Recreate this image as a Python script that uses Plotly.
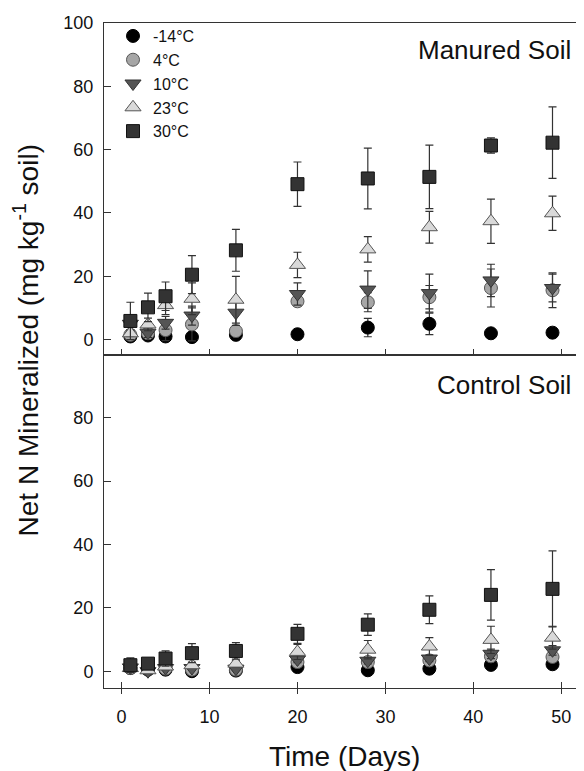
import plotly.graph_objects as go

days = [1, 3, 5, 8, 13, 20, 28, 35, 42, 49]
labels = ["-14°C", "4°C", "10°C", "23°C", "30°C"]

# Manured soil
man_m14 = [1.0, 1.3, 1.0, 0.8, 1.5, 1.7, 3.8, 5.0, 2.0, 2.2]
man_m14_err = [0.5, 0.5, 0.5, 0.5, 0.5, 0.5, 2.9, 3.4, 0.5, 0.5]
man_4 = [1.5, 2.0, 3.0, 4.8, 2.7, 12.1, 11.8, 13.4, 16.3, 15.6]
man_4_err = [1.0, 1.5, 3.3, 5.2, 1.0, 1.5, 3.0, 3.7, 6.0, 5.5]
man_10 = [5.0, 2.2, 5.3, 7.6, 8.5, 14.4, 15.8, 14.7, 18.7, 16.3]
man_10_err = [2.0, 1.5, 2.0, 3.0, 4.0, 3.5, 5.9, 6.0, 5.1, 4.4]
man_23 = [2.0, 4.8, 10.9, 12.9, 12.6, 23.6, 28.5, 35.5, 37.4, 39.9]
man_23_err = [1.0, 2.0, 3.0, 5.0, 7.4, 4.0, 4.0, 5.0, 7.0, 5.4]
man_30 = [5.9, 10.2, 13.7, 20.5, 28.2, 49.1, 50.9, 51.4, 61.3, 62.2]
man_30_err = [5.9, 4.5, 4.5, 6.0, 6.6, 7.0, 9.6, 10.0, 2.4, 11.3]

# Control soil
con_m14 = [1.0, 0.5, 0.5, 0.0, 0.2, 1.3, 0.3, 0.8, 2.0, 2.2]
con_m14_err = [0.5, 0.5, 0.5, 0.5, 0.5, 0.5, 0.5, 0.5, 0.5, 0.5]
con_4 = [1.0, 0.8, 0.8, 0.5, 0.5, 2.9, 2.9, 3.4, 4.7, 4.5]
con_4_err = [0.5, 0.5, 0.5, 0.5, 0.5, 1.0, 1.0, 1.0, 1.5, 1.5]
con_10 = [1.2, 0.0, 1.0, 1.0, 0.8, 3.7, 3.3, 4.0, 5.5, 6.6]
con_10_err = [0.5, 0.5, 0.5, 0.5, 0.5, 1.0, 1.0, 1.0, 1.5, 1.5]
con_23 = [1.0, 0.3, 1.5, 1.9, 2.4, 6.1, 6.8, 7.8, 9.9, 10.6]
con_23_err = [0.5, 0.5, 1.0, 1.0, 1.0, 2.4, 2.9, 2.8, 4.3, 3.6]
con_30 = [1.9, 2.4, 4.0, 5.7, 6.4, 11.8, 14.7, 19.4, 24.1, 26.0]
con_30_err = [2.3, 1.0, 2.4, 3.0, 2.6, 3.0, 3.4, 4.4, 8.0, 12.0]

styles = [
    dict(symbol="circle", color="#000000", line="#000000", size=13),
    dict(symbol="circle", color="#a6a6a6", line="#555555", size=13),
    dict(symbol="triangle-down", color="#555555", line="#333333", size=14),
    dict(symbol="triangle-up", color="#d9d9d9", line="#555555", size=14),
    dict(symbol="square", color="#333333", line="#111111", size=13),
]

manured = [(man_m14, man_m14_err), (man_4, man_4_err), (man_10, man_10_err),
           (man_23, man_23_err), (man_30, man_30_err)]
control = [(con_m14, con_m14_err), (con_4, con_4_err), (con_10, con_10_err),
           (con_23, con_23_err), (con_30, con_30_err)]

fig = go.Figure()
FONT = "Arial, Liberation Sans, sans-serif"

for i, (vals, err) in enumerate(manured):
    s = styles[i]
    fig.add_trace(go.Scatter(
        x=days, y=vals, mode="markers", name=labels[i], xaxis="x", yaxis="y",
        marker=dict(symbol=s["symbol"], color=s["color"], size=s["size"],
                    line=dict(color=s["line"], width=1)),
        error_y=dict(type="data", array=err, color="#333333", thickness=1.2, width=4),
        showlegend=True))

for i, (vals, err) in enumerate(control):
    s = styles[i]
    fig.add_trace(go.Scatter(
        x=days, y=vals, mode="markers", name=labels[i], xaxis="x2", yaxis="y2",
        marker=dict(symbol=s["symbol"], color=s["color"], size=s["size"],
                    line=dict(color=s["line"], width=1)),
        error_y=dict(type="data", array=err, color="#333333", thickness=1.2, width=4),
        showlegend=False))

# empty trace so the overlay axis (outside half of the bottom ticks) is drawn
fig.add_trace(go.Scatter(x=[None], y=[None], xaxis="x3", yaxis="y2",
                         showlegend=False, hoverinfo="skip"))

xr = [-2.0, 51.9]
split = 0.5015
axcol = "#333333"
common_x = dict(range=xr, tickvals=[0, 10, 20, 30, 40, 50], showgrid=False,
                zeroline=False, showline=True, linecolor=axcol, linewidth=1,
                mirror=True, ticks="inside", ticklen=6, tickcolor=axcol)
common_y = dict(showgrid=False, zeroline=False, showline=True, linecolor=axcol,
                linewidth=1, mirror=True, ticks="inside", ticklen=7, tickcolor=axcol,
                tickfont=dict(family=FONT, size=18, color="#111111"),
                ticklabelstandoff=6)

fig.update_layout(
    width=576, height=763,
    margin=dict(l=96, r=5, t=10, b=83),
    paper_bgcolor="white", plot_bgcolor="white",
    font=dict(family=FONT, color="#111111"),
    xaxis=dict(**common_x, domain=[0, 1], anchor="y", showticklabels=False),
    yaxis=dict(**common_y, domain=[split, 1], range=[-4.7, 100],
               tickvals=[0, 20, 40, 60, 80, 100], anchor="x"),
    xaxis2=dict(**common_x, domain=[0, 1], anchor="y2", showticklabels=True,
                tickfont=dict(family=FONT, size=18, color="#111111"),
                ticklabelstandoff=12),
    yaxis2=dict(**common_y, domain=[0, split], range=[-5.3, 100],
                tickvals=[0, 20, 40, 60, 80], anchor="x2"),
    xaxis3=dict(range=xr, tickvals=[0, 10, 20, 30, 40, 50], overlaying="x2",
                anchor="y2", side="bottom", showline=False, showgrid=False,
                zeroline=False, ticks="outside", ticklen=5, tickcolor=axcol,
                showticklabels=False),
    legend=dict(x=0.019, y=1.006, xanchor="left", yanchor="top",
                bgcolor="rgba(0,0,0,0)", font=dict(family=FONT, size=16, color="#111111"),
                itemsizing="trace"),
    annotations=[
        dict(text="Manured Soil", x=0.99, y=0.96, xref="paper", yref="paper",
             xanchor="right", yanchor="middle", showarrow=False,
             font=dict(family=FONT, size=26, color="#111111")),
        dict(text="Control Soil", x=0.99, y=0.455, xref="paper", yref="paper",
             xanchor="right", yanchor="middle", showarrow=False,
             font=dict(family=FONT, size=26, color="#111111")),
        dict(text="Time (Days)", x=0.507, y=-0.103, xref="paper", yref="paper",
             xanchor="center", yanchor="middle", showarrow=False,
             font=dict(family=FONT, size=28, color="#111111")),
        dict(text="Net N Mineralized (mg kg<sup>-1</sup> soil)", x=-0.164, y=0.523,
             xref="paper", yref="paper", xanchor="center", yanchor="middle",
             textangle=-90, showarrow=False,
             font=dict(family=FONT, size=28, color="#111111")),
    ],
)

fig.write_html("out.html")
